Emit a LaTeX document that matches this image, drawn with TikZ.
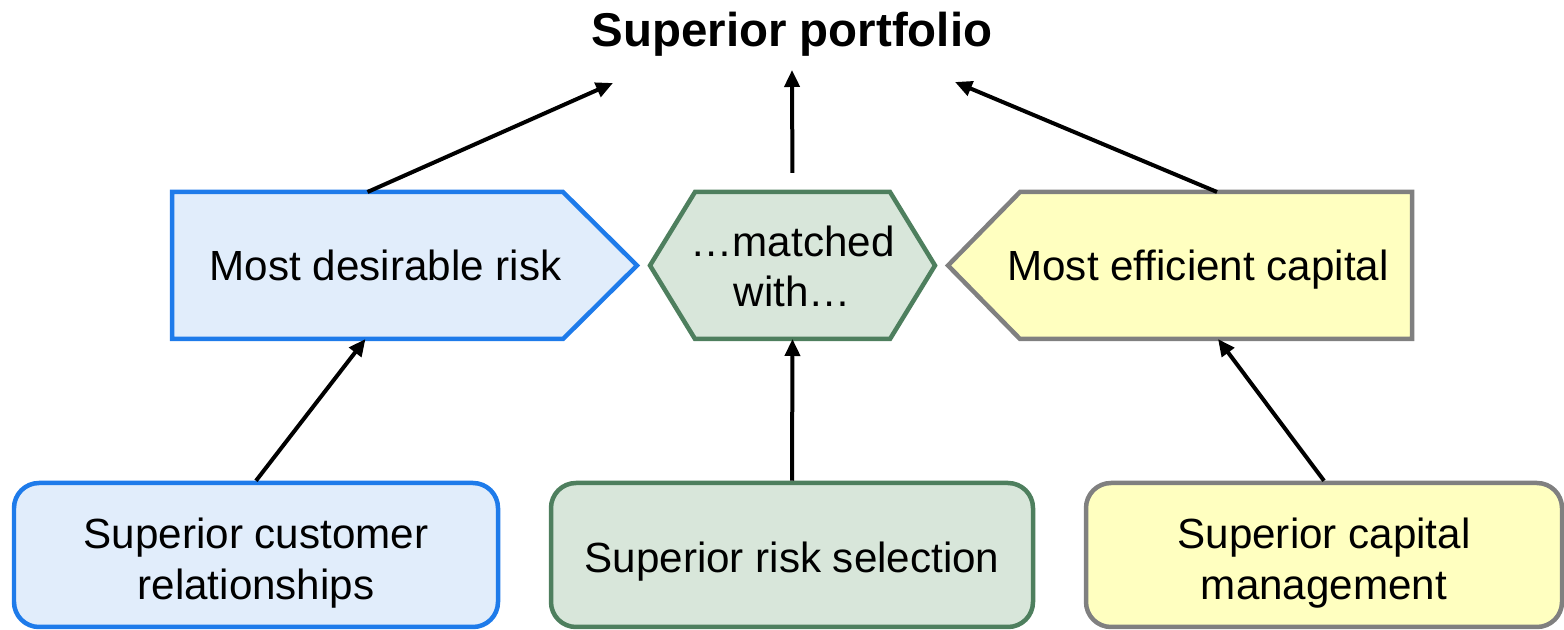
\documentclass[tikz,border=0pt]{standalone}
\usepackage{fontspec}
\setmainfont{Liberation Sans}
\usepackage{xcolor}
\usepackage{tikz}
\usetikzlibrary{arrows.meta, backgrounds, positioning}

\definecolor{riskline}{HTML}{1E7BEA}
\definecolor{riskfill}{HTML}{E1EDFB}
\definecolor{matchline}{HTML}{4E7F5E}
\definecolor{matchfill}{HTML}{D8E6DA}
\definecolor{capline}{HTML}{808080}
\definecolor{capfill}{HTML}{FFFFC0}

\begin{document}
\begin{tikzpicture}[
		line join=round,
		every node/.style={font=\fontsize{12pt}{14.4pt}\selectfont, align=center, inner sep=0pt},
		every label/.style={font=\fontsize{12pt}{14.4pt}\selectfont, align=center, inner sep=0pt},
		title/.style={font=\fontsize{13.5pt}{16pt}\selectfont\bfseries, anchor=base},
		mid part/.style={minimum height=1.47cm, outer sep=0pt},
		base box/.style={rounded corners=0.25cm, minimum height=1.44cm},
		blue part/.style={draw=riskline, fill=riskfill, line width=0.045cm},
		green part/.style={draw=matchline, fill=matchfill, line width=0.045cm},
		yellow part/.style={draw=capline, fill=capfill, line width=0.045cm},
		link/.style={black, line width=0.04cm, -{Triangle[length=0.17cm, width=0.15cm]}}
		]

	\useasboundingbox (0, 0) rectangle (15.64, -6.30);

	% Goal
	\node[title] (goal) at (7.92, -0.47) {Superior portfolio};
	\coordinate (goal left) at (6.13, -0.83);
	\coordinate (goal mid) at (7.92, -0.70);
	\coordinate (goal right) at (9.55, -0.82);

	% Middle row
	\node[mid part, minimum width=4.65cm, label={[xshift=-0.19cm]center:Most desirable risk}] (risk) at (4.045, -2.655) {};
	\node[mid part, minimum width=2.85cm, label={[yshift=-0.01cm]center:\ldots matched\\with\ldots}] (match) at (7.925, -2.655) {};
	\node[mid part, minimum width=4.64cm, label={[xshift=0.18cm, yshift=-0.04cm]center:Most efficient capital}] (capital) at (11.80, -2.655) {};

	\begin{scope}[on background layer]
		\draw[blue part] (risk.north west) -- ([xshift=-0.74cm]risk.north east) -- (risk.east)
			-- ([xshift=-0.74cm]risk.south east) -- (risk.south west) -- cycle;
		\draw[green part] (match.west) -- ([xshift=0.45cm]match.north west) -- ([xshift=-0.45cm]match.north east)
			-- (match.east) -- ([xshift=-0.45cm]match.south east) -- ([xshift=0.45cm]match.south west) -- cycle;
		\draw[yellow part] (capital.west) -- ([xshift=0.72cm]capital.north west) -- (capital.north east)
			-- (capital.south east) -- ([xshift=0.72cm]capital.south west) -- cycle;
	\end{scope}

	% Bottom row
	\node[base box, blue part, minimum width=4.84cm, label={[yshift=-0.08cm]center:Superior customer\\relationships}] (customer) at (2.56, -5.55) {};
	\node[base box, green part, minimum width=4.82cm, label={[yshift=-0.07cm]center:Superior risk selection}] (selection) at (7.92, -5.55) {};
	\node[base box, yellow part, minimum width=4.76cm, label={[yshift=-0.08cm]center:Superior capital\\management}] (management) at (13.24, -5.55) {};

	% Links up
	\draw[link] (customer.north) -- ([xshift=-0.39cm]risk.south);
	\draw[link] (selection.north) -- (match.south);
	\draw[link] (management.north) -- ([xshift=0.38cm]capital.south);

	\draw[link] ([xshift=-0.37cm]risk.north) -- (goal left);
	\draw[link, shorten <=0.19cm] (match.north) -- (goal mid);
	\draw[link] ([xshift=0.37cm]capital.north) -- (goal right);

\end{tikzpicture}
\end{document}
